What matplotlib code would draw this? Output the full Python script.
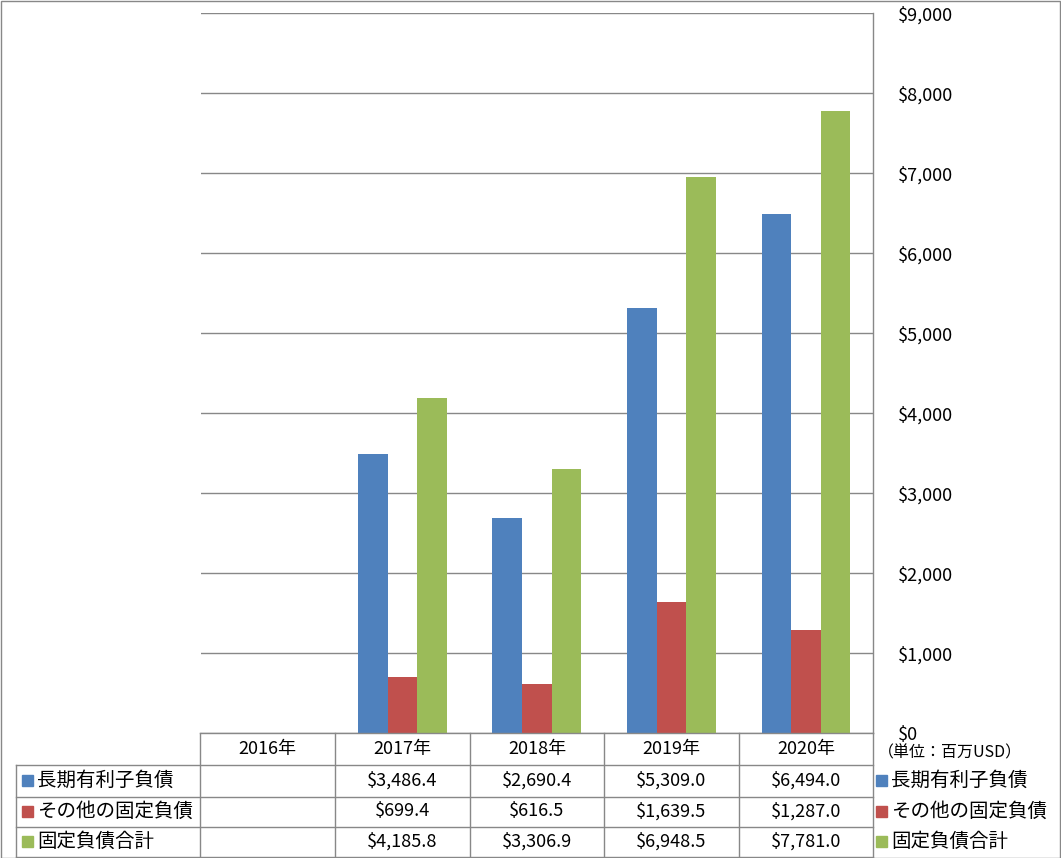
import numpy as np
import matplotlib
matplotlib.use("Agg")
import matplotlib.pyplot as plt
import matplotlib.patches as patches
import matplotlib.transforms as mtransforms
from matplotlib.ticker import FuncFormatter

plt.rcParams['font.family'] = ['Noto Sans CJK JP', 'DejaVu Sans']

years = ["2016年", "2017年", "2018年", "2019年", "2020年"]
series_names = ["長期有利子負債", "その他の固定負債", "固定負債合計"]
long_debt = [np.nan, 3486.4, 2690.4, 5309.0, 6494.0]
other_fixed = [np.nan, 699.4, 616.5, 1639.5, 1287.0]
fixed_total = [np.nan, 4185.8, 3306.9, 6948.5, 7781.0]
colors = ["#4F81BD", "#C0504D", "#9BBB59"]

W, H = 1061, 858
fig = plt.figure(figsize=(W / 100, H / 100), dpi=100)

def fy(py):
    # pixel row (from top) -> figure fraction
    return 1 - py / H

# plot area
x0, x1 = 200.5, 873.3
ytop, ybot = 13, 733.3
ax = fig.add_axes([x0 / W, fy(ybot), (x1 - x0) / W, (ybot - ytop) / H])

x = np.arange(len(years))
bw = 0.22
all_vals = [long_debt, other_fixed, fixed_total]
for i, vals in enumerate(all_vals):
    ax.bar(x + (i - 1) * bw, vals, width=bw, color=colors[i], zorder=3)

ax.set_xlim(-0.5, len(years) - 0.5)
ax.set_ylim(0, 9000)
ax.set_yticks(np.arange(0, 9001, 1000))
ax.yaxis.tick_right()
ax.yaxis.set_major_formatter(FuncFormatter(lambda v, p: "${:,.0f}".format(v)))
ax.tick_params(axis='y', length=0, pad=18, labelsize=13, colors='black')
ax.set_xticks([])
ax.grid(axis='y', color='#888888', linewidth=1, zorder=0)
for s in ['left', 'top', 'bottom']:
    ax.spines[s].set_visible(False)
ax.spines['right'].set_color('#888888')
ax.spines['right'].set_linewidth(1)

# data table under the plot, columns follow the category axis
trans = mtransforms.blended_transform_factory(ax.transData, fig.transFigure)
line_kw = dict(color='#888888', linewidth=1)
rows_y = [733.3, 765, 796.5, 826.5, 856.5]
edges = np.arange(len(years) + 1) - 0.5

# horizontal lines
fig.add_artist(plt.Line2D([edges[0], edges[-1]], [fy(rows_y[0])] * 2, transform=trans, **line_kw))
for ry in rows_y[1:]:
    fig.add_artist(plt.Line2D([16 / W, x1 / W], [fy(ry)] * 2, transform=fig.transFigure, **line_kw))
# vertical lines
for e in edges:
    fig.add_artist(plt.Line2D([e, e], [fy(rows_y[0]), fy(rows_y[-1])], transform=trans, **line_kw))
fig.add_artist(plt.Line2D([16 / W, 16 / W], [fy(rows_y[1]), fy(rows_y[-1])], transform=fig.transFigure, **line_kw))

# header
for i, yr in enumerate(years):
    fig.text(x[i], fy((rows_y[0] + rows_y[1]) / 2), yr, transform=trans,
             ha='center', va='center', fontsize=13)

# rows
for r, (name, vals) in enumerate(zip(series_names, all_vals)):
    cy = fy((rows_y[r + 1] + rows_y[r + 2]) / 2)
    fig.add_artist(patches.Rectangle((22 / W, cy - 5.5 / H), 10.5 / W, 11 / H,
                                     transform=fig.transFigure, color=colors[r]))
    fig.text(37 / W, cy, name, ha='left', va='center', fontsize=14)
    for i, v in enumerate(vals):
        if not np.isnan(v):
            fig.text(x[i], cy, "${:,.1f}".format(v), transform=trans,
                     ha='center', va='center', fontsize=13)
    # legend on the right
    fig.add_artist(patches.Rectangle((876 / W, cy - 5.5 / H), 10.5 / W, 11 / H,
                                     transform=fig.transFigure, color=colors[r]))
    fig.text(891 / W, cy, name, ha='left', va='center', fontsize=14)

fig.text(878 / W, fy(753), "（単位：百万USD）", ha='left', va='center', fontsize=11.5)

# outer border
fig.add_artist(patches.Rectangle((0.5 / W, 0.5 / H), (W - 1.5) / W, (H - 1.5) / H,
                                 transform=fig.transFigure, fill=False,
                                 edgecolor='#888888', linewidth=1))

fig.savefig("out.png", dpi=100)
